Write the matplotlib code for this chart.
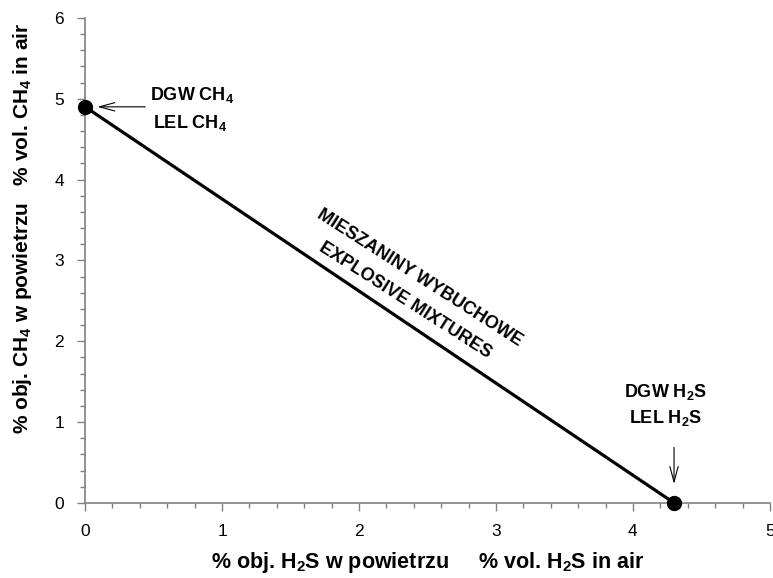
import numpy as np
import matplotlib
matplotlib.use("Agg")
import matplotlib.pyplot as plt
from matplotlib.ticker import MultipleLocator

plt.rcParams['font.family'] = ['Liberation Sans', 'DejaVu Sans']
plt.rcParams['mathtext.fontset'] = 'custom'
plt.rcParams['mathtext.rm'] = 'Liberation Sans:bold'
plt.rcParams['mathtext.bf'] = 'Liberation Sans:bold'
plt.rcParams['mathtext.default'] = 'bf'

# LEL points: pure H2S and pure CH4
h2s = [0, 4.3]
ch4 = [4.9, 0]

x_label = "% obj. H$_2$S w powietrzu     % vol. H$_2$S in air"
y_label = "% obj. CH$_4$ w powietrzu   % vol. CH$_4$ in air"
region_pl = "MIESZANINY WYBUCHOWE"
region_en = "EXPLOSIVE MIXTURES"

fig = plt.figure(figsize=(7.73, 5.78), dpi=100)
ax = fig.add_axes([0.110, 0.130, 0.886, 0.839])

ax.plot(h2s, ch4, color="black", lw=2.3, marker="o", markersize=10, clip_on=False, zorder=5)

ax.set_xlim(0, 5)
ax.set_ylim(0, 6)
ax.xaxis.set_major_locator(MultipleLocator(1))
ax.xaxis.set_minor_locator(MultipleLocator(0.2))
ax.yaxis.set_major_locator(MultipleLocator(1))
ax.yaxis.set_minor_locator(MultipleLocator(0.2))

for s in ["top", "right"]:
    ax.spines[s].set_visible(False)
for s in ["left", "bottom"]:
    ax.spines[s].set_color("#808080")
    ax.spines[s].set_linewidth(1.2)

ax.tick_params(which="major", length=6, width=1, color="#808080", labelsize=12.5, pad=9)
ax.tick_params(which="minor", length=3.5, width=1, color="#808080")

ax.set_xlabel(x_label, fontsize=15.5, fontweight="bold", labelpad=8)
ax.set_ylabel(y_label, fontsize=15, fontweight="bold")
ax.yaxis.set_label_coords(-0.074, 0.567)

arrow = dict(arrowstyle="->,head_length=1.1,head_width=0.3", color="black", lw=0.8)

# CH4 annotation
ax.annotate("", xy=(0.07, ch4[0]), xytext=(0.46, ch4[0]), arrowprops=arrow)
ax.text(0.474, 4.99, "DGW CH$_4$", fontsize=13, fontweight="bold", va="baseline", ha="left")
ax.text(0.496, 4.64, "LEL CH$_4$", fontsize=13, fontweight="bold", va="baseline", ha="left")

# H2S annotation
ax.annotate("", xy=(h2s[1], 0.2), xytext=(h2s[1], 0.72), arrowprops=arrow)
ax.text(4.24, 1.31, "DGW H$_2$S", fontsize=13, fontweight="bold", va="baseline", ha="center")
ax.text(4.24, 0.99, "LEL H$_2$S", fontsize=13, fontweight="bold", va="baseline", ha="center")

ax.text(2.445, 2.78, region_pl, fontsize=13, fontweight="bold", rotation=-32.6,
        ha="center", va="center", rotation_mode="anchor")
ax.text(2.336, 2.51, region_en, fontsize=13, fontweight="bold", rotation=-32.6,
        ha="center", va="center", rotation_mode="anchor")

fig.savefig("out.png", dpi=100)
